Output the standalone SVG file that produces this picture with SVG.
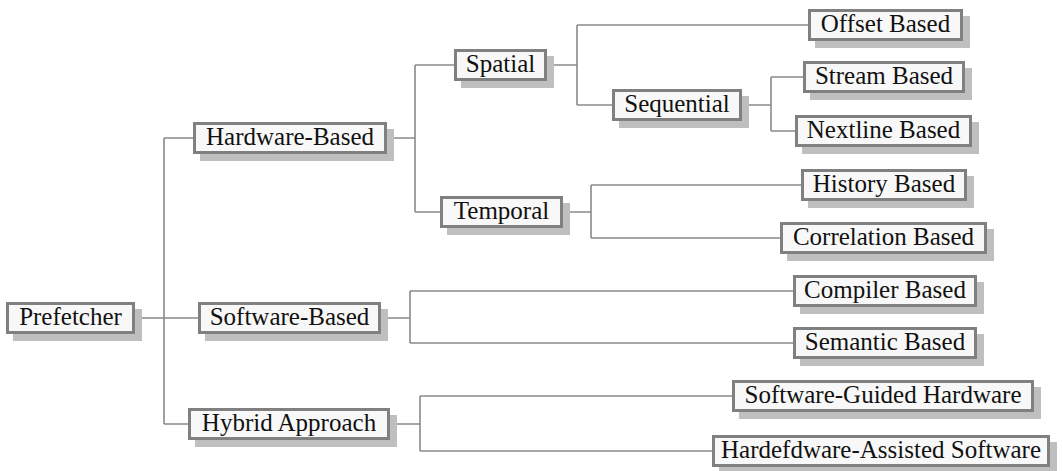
<svg xmlns="http://www.w3.org/2000/svg" width="1063" height="471" viewBox="0 0 1063 471">
<style>
.sh{fill:#bfbfbf}
.bx{fill:#f8f8f8;stroke:#808080;stroke-width:3}
.t{font-family:"Liberation Serif","DejaVu Serif",serif;font-size:25px;fill:#111;text-anchor:middle}
.c{fill:none;stroke:#8a8a8a;stroke-width:1.6}
</style>
<rect width="1063" height="471" fill="#fff"/>
<g id="connectors">
<path class="c" d="M135,318H164M164,138V424M164,138H193M164,318H198M164,424H188"/>
<path class="c" d="M387,138H415M415,65V212M415,65H454M415,212H440"/>
<path class="c" d="M547,65H577M577,25V105M577,25H808M577,105H612"/>
<path class="c" d="M742,105H771M771,77V131M771,77H803M771,131H795"/>
<path class="c" d="M563,212H591M591,185V238M591,185H801M591,238H780"/>
<path class="c" d="M381,318H410M410,291V343M410,291H793M410,343H793"/>
<path class="c" d="M390,424H420M420,396V451M420,396H732M420,451H712"/>
</g>
<g id="prefetcher"><rect class="sh" x="13" y="309" width="129" height="32"/><rect class="bx" x="7.5" y="303.5" width="126" height="29"/><text class="t" x="70.5" y="324.5">Prefetcher</text></g>
<g id="hardware"><rect class="sh" x="200" y="129" width="194" height="32"/><rect class="bx" x="194.5" y="123.5" width="191" height="29"/><text class="t" x="290" y="144.5">Hardware-Based</text></g>
<g id="software"><rect class="sh" x="205" y="309" width="183" height="32"/><rect class="bx" x="199.5" y="303.5" width="180" height="29"/><text class="t" x="289.5" y="324.5">Software-Based</text></g>
<g id="hybrid"><rect class="sh" x="195" y="415" width="202" height="32"/><rect class="bx" x="189.5" y="409.5" width="199" height="29"/><text class="t" x="289" y="430.5">Hybrid Approach</text></g>
<g id="spatial"><rect class="sh" x="461" y="56" width="93" height="32"/><rect class="bx" x="455.5" y="50.5" width="90" height="29"/><text class="t" x="500.5" y="71.5">Spatial</text></g>
<g id="sequential"><rect class="sh" x="619" y="96" width="130" height="32"/><rect class="bx" x="613.5" y="90.5" width="127" height="29"/><text class="t" x="677" y="111.5">Sequential</text></g>
<g id="temporal"><rect class="sh" x="447" y="203" width="123" height="32"/><rect class="bx" x="441.5" y="197.5" width="120" height="29"/><text class="t" x="501.5" y="218.5">Temporal</text></g>
<g id="offset"><rect class="sh" x="815" y="16" width="155" height="32"/><rect class="bx" x="809.5" y="10.5" width="152" height="29"/><text class="t" x="885.5" y="31.5">Offset Based</text></g>
<g id="stream"><rect class="sh" x="810" y="68" width="162" height="32"/><rect class="bx" x="804.5" y="62.5" width="159" height="29"/><text class="t" x="884" y="83.5">Stream Based</text></g>
<g id="nextline"><rect class="sh" x="802" y="122" width="177" height="32"/><rect class="bx" x="796.5" y="116.5" width="174" height="29"/><text class="t" x="883.5" y="137.5">Nextline Based</text></g>
<g id="history"><rect class="sh" x="808" y="176" width="166" height="32"/><rect class="bx" x="802.5" y="170.5" width="163" height="29"/><text class="t" x="884" y="191.5">History Based</text></g>
<g id="correlation"><rect class="sh" x="787" y="229" width="207" height="32"/><rect class="bx" x="781.5" y="223.5" width="204" height="29"/><text class="t" x="883.5" y="244.5">Correlation Based</text></g>
<g id="compiler"><rect class="sh" x="800" y="282" width="184" height="32"/><rect class="bx" x="794.5" y="276.5" width="181" height="29"/><text class="t" x="885" y="297.5">Compiler Based</text></g>
<g id="semantic"><rect class="sh" x="800" y="334" width="184" height="32"/><rect class="bx" x="794.5" y="328.5" width="181" height="29"/><text class="t" x="885" y="349.5">Semantic Based</text></g>
<g id="swguided"><rect class="sh" x="739" y="387" width="302" height="32"/><rect class="bx" x="733.5" y="381.5" width="299" height="29"/><text class="t" x="883" y="402.5">Software-Guided Hardware</text></g>
<g id="hwassisted"><rect class="sh" x="719" y="442" width="338" height="32"/><rect class="bx" x="713.5" y="436.5" width="335" height="29"/><text class="t" x="881" y="457.5">Hardefdware-Assisted Software</text></g>
</svg>
